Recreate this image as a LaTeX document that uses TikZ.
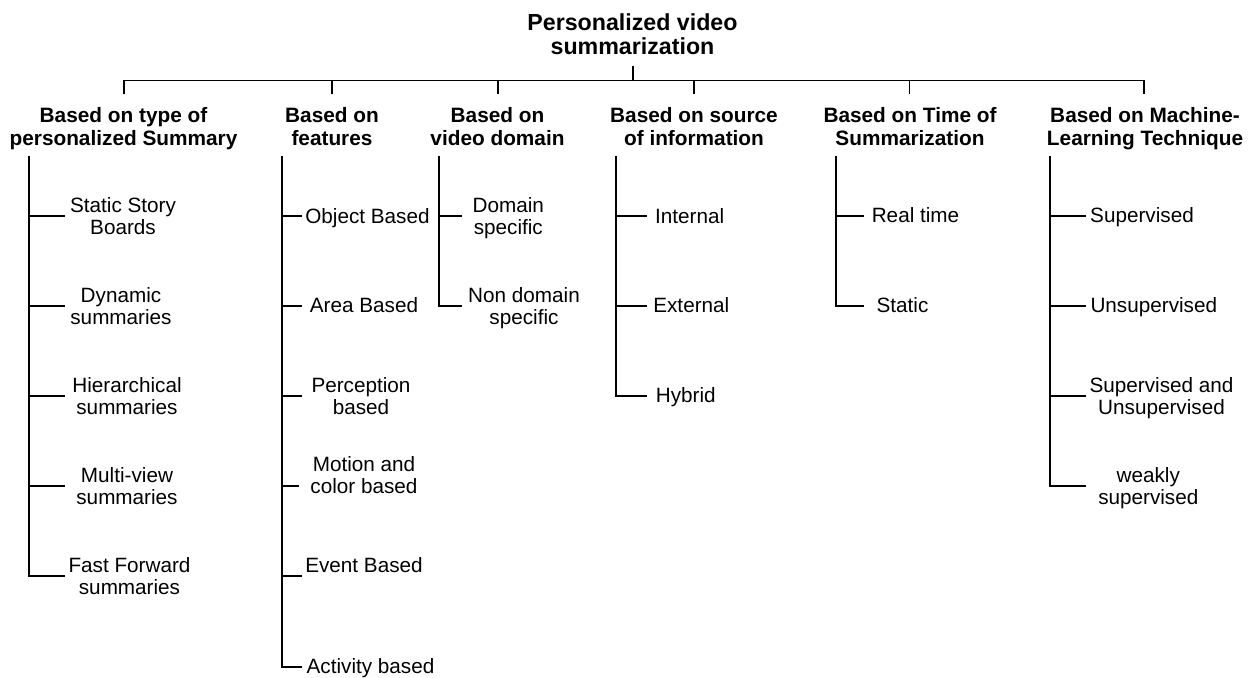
\documentclass[tikz,border=0pt]{standalone}
\usepackage{fontspec}
\setmainfont{Liberation Sans}
\begin{document}
\begin{tikzpicture}[x=0.5pt,y=-0.5pt,
  titlebox/.style={font=\bfseries\fontsize{11.6}{12}\selectfont, align=center, inner sep=0pt, anchor=north},
  catbox/.style={font=\bfseries\fontsize{10.4}{11.5}\selectfont, align=center, inner sep=0pt, anchor=north},
  leafbox/.style={font=\fontsize{10.35}{11}\selectfont, align=center, inner sep=0pt, anchor=north},
  conn/.style={line width=0.65pt, line cap=rect}]
\useasboundingbox (0,0) rectangle (1252,677);

% root
\node[titlebox] (root) at (632.5,13) {Personalized video\\summarization};
\coordinate (rb) at (633,67);
\coordinate (bl) at (124,80.5);
\coordinate (br) at (1144,80.5);

% categories
\node[catbox] (c1) at (123.5,107) {Based on type of\\personalized Summary};
\node[catbox] (c2) at (332,107) {Based on\\features};
\node[catbox] (c3) at (497.5,107) {Based on\\video domain};
\node[catbox] (c4) at (694,107) {Based on source\\of information};
\node[catbox] (c5) at (910,107) {Based on Time of\\Summarization};
\node[catbox] (c6) at (1145,107) {Based on Machine-\\Learning Technique};

\coordinate (d1) at (124,93);
\coordinate (d2) at (332,93);
\coordinate (d3) at (498,93);
\coordinate (d4) at (694,93);
\coordinate (d5) at (909.5,93);
\coordinate (d6) at (1144,93);

\draw[conn] (rb) -- (rb |- bl);
\draw[conn] (bl) -- (br);
\foreach \i in {1,...,6} { \draw[conn] (d\i |- bl) -- (d\i); }

% trunk tops
\coordinate (t1) at (29,157);
\coordinate (t2) at (282,157);
\coordinate (t3) at (439,157);
\coordinate (t4) at (616,157);
\coordinate (t5) at (836,157);
\coordinate (t6) at (1050,157);

% stub ends
\coordinate (s11) at (64,216);
\coordinate (s12) at (64,306);
\coordinate (s13) at (64,396);
\coordinate (s14) at (64,486);
\coordinate (s15) at (64,576);

\coordinate (s21) at (301,216);
\coordinate (s22) at (301,306);
\coordinate (s23) at (301,396);
\coordinate (s24) at (298,486);
\coordinate (s25) at (301,576);
\coordinate (s26) at (301,667);

\coordinate (s31) at (461,216);
\coordinate (s32) at (461,306);

\coordinate (s41) at (646,216);
\coordinate (s42) at (646,306);
\coordinate (s43) at (646,396);

\coordinate (s51) at (863,216);
\coordinate (s52) at (863,306);

\coordinate (s61) at (1085,216);
\coordinate (s62) at (1085,306);
\coordinate (s63) at (1085,396);
\coordinate (s64) at (1085,486);

% leaves
\node[leafbox] (l11) at (123,197) {Static Story\\Boards};
\node[leafbox] (l12) at (121,287) {Dynamic\\summaries};
\node[leafbox] (l13) at (127,377) {Hierarchical\\summaries};
\node[leafbox] (l14) at (127,467) {Multi-view\\summaries};
\node[leafbox] (l15) at (129.5,557) {Fast Forward\\summaries};

\node[leafbox] (l21) at (367.5,208) {Object Based};
\node[leafbox] (l22) at (364,297) {Area Based};
\node[leafbox] (l23) at (361,377) {Perception\\based};
\node[leafbox] (l24) at (364,456) {Motion and\\color based};
\node[leafbox] (l25) at (364,557) {Event Based};
\node[leafbox] (l26) at (370.5,658) {Activity based};

\node[leafbox] (l31) at (508.3,197) {Domain\\specific};
\node[leafbox] (l32) at (524,287) {Non domain\\specific};

\node[leafbox] (l41) at (689.7,208) {Internal};
\node[leafbox] (l42) at (691.3,297) {External};
\node[leafbox] (l43) at (685.8,387) {Hybrid};

\node[leafbox] (l51) at (915.5,207) {Real time};
\node[leafbox] (l52) at (902.5,297) {Static};

\node[leafbox] (l61) at (1142,207) {Supervised};
\node[leafbox] (l62) at (1153.8,297) {Unsupervised};
\node[leafbox] (l63) at (1161.5,377) {Supervised and\\Unsupervised};
\node[leafbox] (l64) at (1148.3,467) {weakly\\supervised};

% trunks and stubs
\draw[conn] (t1) |- (s15);
\foreach \j in {1,...,4} { \draw[conn] (t1 |- s1\j) -- (s1\j); }
\draw[conn] (t2) |- (s26);
\foreach \j in {1,...,5} { \draw[conn] (t2 |- s2\j) -- (s2\j); }
\draw[conn] (t3) |- (s32);
\draw[conn] (t3 |- s31) -- (s31);
\draw[conn] (t4) |- (s43);
\foreach \j in {1,2} { \draw[conn] (t4 |- s4\j) -- (s4\j); }
\draw[conn] (t5) |- (s52);
\draw[conn] (t5 |- s51) -- (s51);
\draw[conn] (t6) |- (s64);
\foreach \j in {1,...,3} { \draw[conn] (t6 |- s6\j) -- (s6\j); }
\end{tikzpicture}
\end{document}
